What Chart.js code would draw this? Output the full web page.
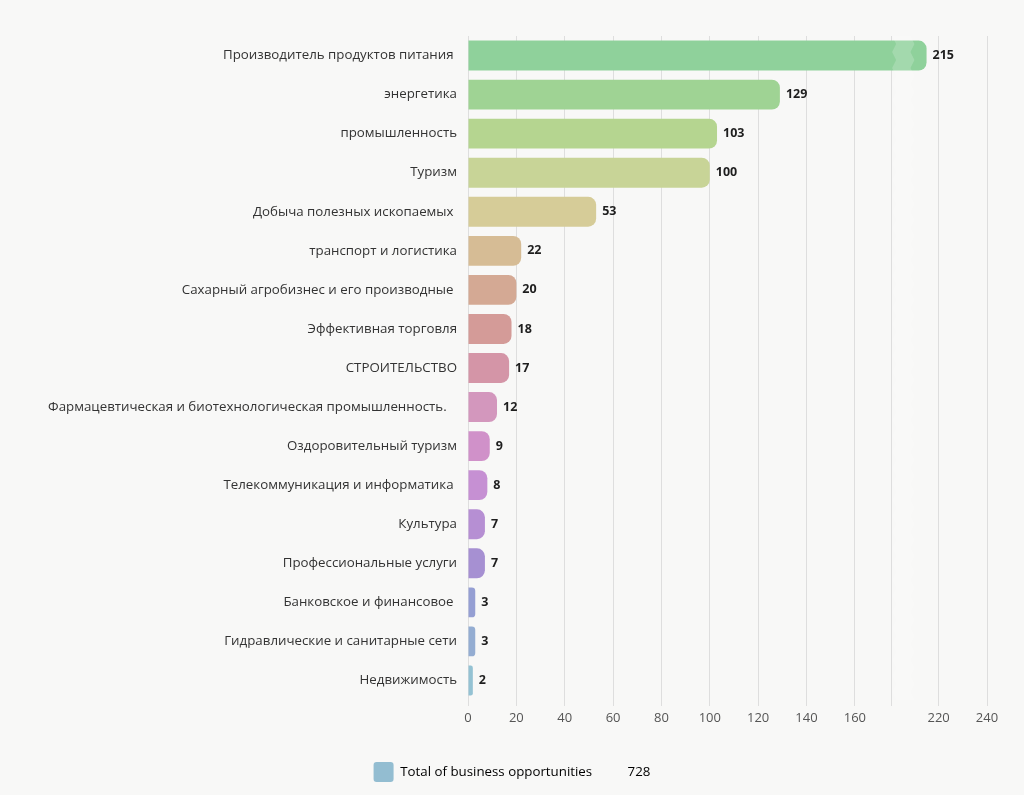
<!DOCTYPE html>
<html>
<head>
<meta charset="utf-8">
<script src="https://cdn.jsdelivr.net/npm/chart.js@4"></script>
<style>
  html, body { margin: 0; padding: 0; background: #f8f8f7; }
  .wrap { width: 1024px; height: 795px; }
</style>
</head>
<body>
<div class="wrap"><canvas id="oppChart" width="1024" height="795"></canvas></div>
<script>
// categories and values
const sectors = [
  "Производитель продуктов питания ",
  "энергетика",
  "промышленность",
  "Туризм",
  "Добыча полезных ископаемых ",
  "транспорт и логистика",
  "Сахарный агробизнес и его производные ",
  "Эффективная торговля",
  "СТРОИТЕЛЬСТВО",
  "Фармацевтическая и биотехнологическая промышленность.   ",
  "Оздоровительный туризм",
  "Телекоммуникация и информатика ",
  "Культура",
  "Профессиональные услуги",
  "Банковское и финансовое ",
  "Гидравлические и санитарные сети",
  "Недвижимость"
];
const opportunities = [215, 129, 103, 100, 53, 22, 20, 18, 17, 12, 9, 8, 7, 7, 3, 3, 2];
const barColors = [
  "#8fd19b", "#9fd394", "#b5d590", "#c8d497", "#d6cc98", "#d6bc95",
  "#d4a994", "#d49b98", "#d495a7", "#d397bd", "#d091c9", "#c690d3",
  "#b68fd3", "#a690d2", "#959fd3", "#94add2", "#94c2d3"
];
const xTicks = [0, 20, 40, 60, 80, 100, 120, 140, 160, 175, 220, 240];
const hiddenTicks = [175];
const legendLabel = "Total of business opportunities";
const legendColor = "#93bdd1";

// axis break: values between breakFrom and breakTo squeezed into a narrow band
const breakFrom = 175;
const breakTo = 210;
const axisMax = 240;
const bandShare = 0.045;

function toDecimal(v) {
  const units = breakFrom + (axisMax - breakTo);
  const k = (1 - bandShare) / units;
  if (v <= breakFrom) return v * k;
  if (v < breakTo) return breakFrom * k + (v - breakFrom) / (breakTo - breakFrom) * bandShare;
  return breakFrom * k + bandShare + (v - breakTo) * k;
}
function fromDecimal(d) {
  const units = breakFrom + (axisMax - breakTo);
  const k = (1 - bandShare) / units;
  const d1 = breakFrom * k;
  if (d <= d1) return d / k;
  if (d < d1 + bandShare) return breakFrom + (d - d1) / bandShare * (breakTo - breakFrom);
  return breakTo + (d - d1 - bandShare) / k;
}

class BrokenLinearScale extends Chart.LinearScale {
  buildTicks() {
    return xTicks.map(v => ({ value: v }));
  }
  getPixelForValue(value) {
    return this.getPixelForDecimal(toDecimal(value));
  }
  getValueForPixel(pixel) {
    return fromDecimal(this.getDecimalForPixel(pixel));
  }
}
BrokenLinearScale.id = "brokenLinear";
BrokenLinearScale.defaults = Chart.LinearScale.defaults;
Chart.register(BrokenLinearScale);

// value labels at bar ends
const valueLabels = {
  id: "valueLabels",
  afterDatasetsDraw(chart) {
    const ctx = chart.ctx;
    const meta = chart.getDatasetMeta(0);
    ctx.save();
    ctx.font = "bold 12.5px 'Open Sans'";
    ctx.fillStyle = "#1e1e1e";
    ctx.textBaseline = "middle";
    meta.data.forEach((bar, i) => {
      ctx.fillText(opportunities[i], bar.x + 6, bar.y);
    });
    ctx.restore();
  }
};

// zigzag band marking the axis break
const breakBand = {
  id: "breakBand",
  afterDatasetsDraw(chart) {
    const ctx = chart.ctx;
    const area = chart.chartArea;
    const x = chart.scales.x;
    const x1 = x.getPixelForValue(breakFrom) + 1;
    const x2 = x.getPixelForValue(breakTo);
    const amp = 4, step = 8;
    ctx.save();
    ctx.beginPath();
    let flip = false;
    ctx.moveTo(x1, area.top);
    for (let y = area.top; y <= area.bottom; y += step) {
      ctx.lineTo(x1 + (flip ? amp : 0), y);
      flip = !flip;
    }
    ctx.lineTo(x1, area.bottom);
    ctx.lineTo(x2, area.bottom);
    flip = false;
    for (let y = area.bottom; y >= area.top; y -= step) {
      ctx.lineTo(x2 - (flip ? amp : 0), y);
      flip = !flip;
    }
    ctx.lineTo(x2, area.top);
    ctx.closePath();
    ctx.fillStyle = "rgba(255,255,255,0.18)";
    ctx.fill();
    ctx.restore();
  }
};

const total = opportunities.reduce((a, b) => a + b, 0);

new Chart(document.getElementById("oppChart"), {
  type: "bar",
  data: {
    labels: sectors,
    datasets: [{
      label: legendLabel,
      data: opportunities,
      backgroundColor: barColors,
      borderRadius: 8,
      borderSkipped: "start",
      barPercentage: 0.9,
      categoryPercentage: 0.85
    }]
  },
  options: {
    indexAxis: "y",
    responsive: false,
    animation: false,
    layout: { padding: { top: 36, right: 37, bottom: 3, left: 37 } },
    scales: {
      x: {
        type: "brokenLinear",
        min: 0,
        max: axisMax,
        afterFit: s => { s.height = 52; },
        grid: { color: "#dedede", tickLength: 6 },
        border: { display: false },
        ticks: {
          padding: 4,
          color: "#555",
          font: { family: "'Open Sans'", size: 13 },
          callback: v => hiddenTicks.includes(v) ? "" : v
        }
      },
      y: {
        afterFit: s => { s.width = 431; },
        grid: { display: false, drawTicks: false },
        border: { display: false },
        ticks: {
          padding: 11,
          color: "#333",
          autoSkip: false,
          font: { family: "'Open Sans'", size: 13.3 }
        }
      }
    },
    plugins: {
      legend: {
        position: "bottom",
        onClick: null,
        labels: {
          boxWidth: 20,
          boxHeight: 20,
          padding: 10,
          color: "#333",
          useBorderRadius: true,
          borderRadius: 3,
          font: { family: "'Open Sans'", size: 13.3 },
          generateLabels: () => [{
            text: legendLabel + "\u2003\u2003\u2002\u2009" + total,
            fillStyle: legendColor,
            strokeStyle: legendColor,
            lineWidth: 0,
            borderRadius: 3,
            datasetIndex: 0
          }]
        }
      },
      tooltip: { enabled: false }
    }
  },
  plugins: [valueLabels, breakBand]
});
</script>
</body>
</html>
